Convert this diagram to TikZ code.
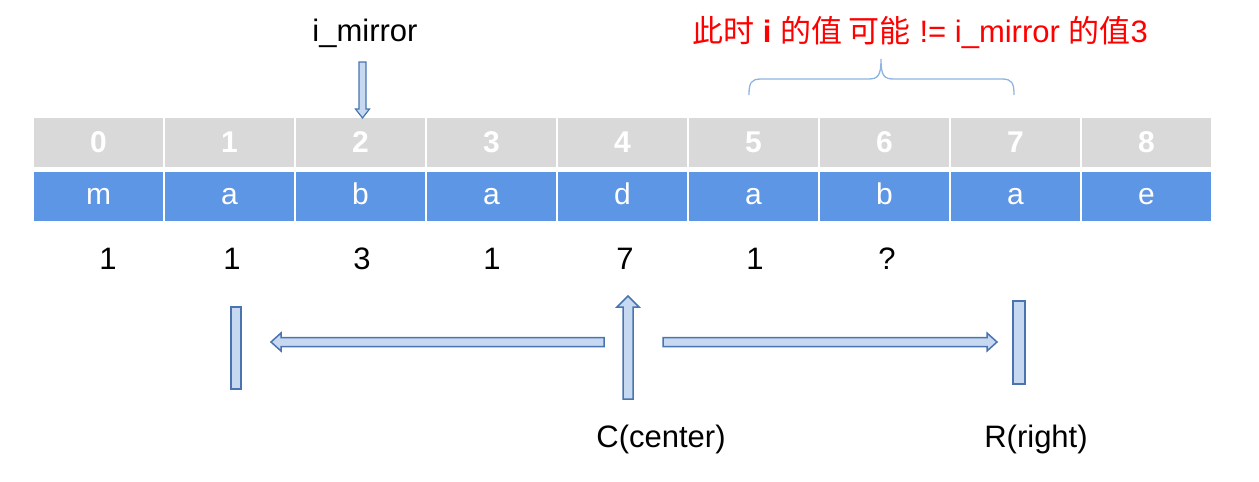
\documentclass[tikz,border=0pt]{standalone}
\usepackage{fontspec}
\setmainfont{Liberation Sans}
\newfontfamily\cjk{Noto Sans CJK SC}
\definecolor{cgray}{HTML}{D9D9D9}
\definecolor{cblue}{HTML}{5E96E6}
\definecolor{afill}{HTML}{C6D9F1}
\definecolor{aline}{HTML}{4A74B0}
\definecolor{bracec}{HTML}{8DB4E2}
\definecolor{red0}{HTML}{FF0000}
\begin{document}
\begin{tikzpicture}[x=1pt,y=-1pt,
  bigfont/.style={font=\fontsize{31}{35}\selectfont},
  cellg/.style={fill=cgray, minimum width=129pt, minimum height=49pt, inner sep=0pt,
    text=white, font=\bfseries\fontsize{30}{34}\selectfont, text height=20pt, text depth=0pt},
  cellb/.style={fill=cblue, minimum width=129pt, minimum height=49pt, inner sep=0pt,
    text=white, font=\fontsize{30}{34}\selectfont, text height=15pt, text depth=0pt},
  lbl/.style={bigfont, anchor=base, inner sep=0pt},
  blockarrow/.style={fill=afill, draw=aline, line width=1.5pt, line join=miter},
  barbox/.style={fill=afill, draw=aline, line width=1.5pt, inner sep=0pt}]
\useasboundingbox (0,0) rectangle (1259,482);
% cells
\foreach \i/\c in {0/m,1/a,2/b,3/a,4/d,5/a,6/b,7/a,8/e}{
  \node[cellg] (g\i) at ({98.5+131*\i},142.5) {\i};
  \node[cellb] (b\i) at ({98.5+131*\i},196.5) {\c};
}
% values row
\node[lbl] (n0) at (108,269) {1};
\node[lbl] (n1) at (232,269) {1};
\node[lbl] (n2) at (362,269) {3};
\node[lbl] (n3) at (492,269) {1};
\node[lbl] (n4) at (625,269) {7};
\node[lbl] (n5) at (755,269) {1};
\node[lbl] (n6) at (887,269) {?};
% top labels
\node[lbl] (mir) at (365,41) {i\_mirror};
\node[lbl, text=red0] (note) at (920,42) {{\cjk 此时} \textbf{i} {\cjk 的值 可能} != i\_mirror {\cjk 的值}3};
% down arrow to index 2
\draw[blockarrow, line width=1.2pt] (359,62) -- (366,62) -- (366,109) -- (369.5,109) -- (362.5,118) -- (355.5,109) -- (359,109) -- cycle;
% brace
\draw[bracec, line width=1.3pt] (749,95) .. controls (749,83) and (751,79) .. (761,79) -- (868,79)
  .. controls (878,79) and (881,76) .. (881,59)
  .. controls (881,76) and (884,79) .. (894,79) -- (1002,79)
  .. controls (1012,79) and (1014,83) .. (1014,95);
% bars
\node[barbox, minimum width=10pt, minimum height=82pt] (lbar) at (236,348) {};
\node[barbox, minimum width=12pt, minimum height=83pt] (rbar) at (1019,342.5) {};
% center up arrow
\draw[blockarrow] (623,399) -- (623,307) -- (617,307) -- (628,296) -- (639,307) -- (633,307) -- (633,399) -- cycle;
% left arrow
\draw[blockarrow] (604,337.5) -- (281,337.5) -- (281,333) -- (271,342) -- (281,351) -- (281,346.5) -- (604,346.5) -- cycle;
% right arrow
\draw[blockarrow] (663,337.5) -- (987,337.5) -- (987,333) -- (997,342) -- (987,351) -- (987,346.5) -- (663,346.5) -- cycle;
% bottom labels
\node[lbl] (cl) at (661,447) {C(center)};
\node[lbl] (rl) at (1036,447) {R(right)};
\end{tikzpicture}
\end{document}
